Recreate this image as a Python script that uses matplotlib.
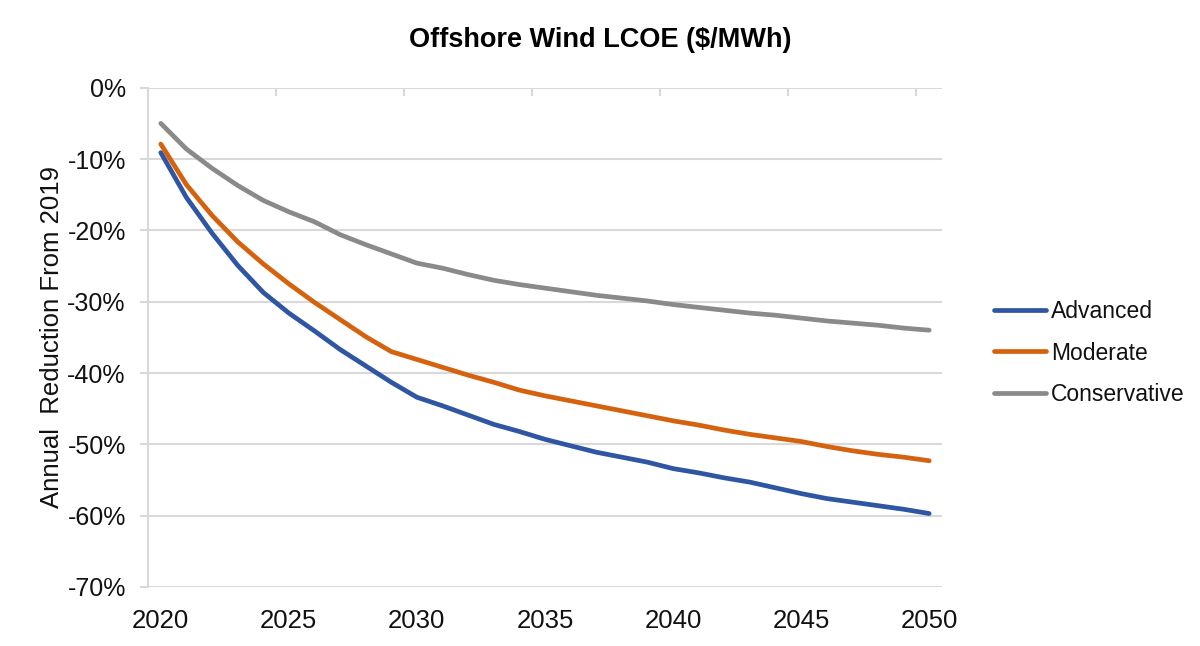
import matplotlib
matplotlib.use("Agg")
import matplotlib.pyplot as plt
from matplotlib.ticker import FixedLocator, FuncFormatter

years = list(range(2020, 2051))
advanced = [-9.1, -15.4, -20.4, -24.9, -28.7, -31.6, -34.1, -36.7, -39.0, -41.3,
            -43.4, -44.6, -45.9, -47.2, -48.2, -49.3, -50.2, -51.1, -51.8, -52.5,
            -53.4, -54.0, -54.7, -55.3, -56.1, -56.9, -57.6, -58.1, -58.6, -59.1, -59.7]
moderate = [-7.9, -13.6, -17.9, -21.6, -24.7, -27.5, -30.1, -32.5, -34.9, -37.0,
            -38.1, -39.2, -40.3, -41.3, -42.4, -43.2, -43.9, -44.6, -45.3, -46.0,
            -46.7, -47.3, -48.0, -48.6, -49.1, -49.6, -50.3, -50.9, -51.4, -51.8, -52.3]
conservative = [-5.0, -8.6, -11.3, -13.7, -15.8, -17.4, -18.8, -20.6, -22.0, -23.3,
                -24.6, -25.3, -26.2, -27.0, -27.6, -28.1, -28.6, -29.1, -29.5, -29.9,
                -30.4, -30.8, -31.2, -31.6, -31.9, -32.3, -32.7, -33.0, -33.3, -33.7, -34.0]
series_names = ["Advanced", "Moderate", "Conservative"]
series_colors = ["#2F56A3", "#D5620F", "#8A8A8A"]
x_tick_labels = [2020, 2025, 2030, 2035, 2040, 2045, 2050]
y_ticks = [0, -10, -20, -30, -40, -50, -60, -70]

plt.rcParams['font.family'] = ['Liberation Sans', 'DejaVu Sans']
grid_c = "#D9D9D9"
txt_c = '#111111'

fig = plt.figure(figsize=(12, 6.46), dpi=100)
ax = fig.add_axes([148/1200, 1-587/646, (942-148)/1200, (587-87.7)/646])

for vals, name, col in zip([advanced, moderate, conservative], series_names, series_colors):
    ax.plot(years, vals, color=col, lw=3.4, solid_capstyle='round',
            solid_joinstyle='round', label=name, zorder=3)

ax.set_xlim(years[0]-0.5, years[-1]+0.5)
ax.set_ylim(-70, 0)

ax.yaxis.set_major_locator(FixedLocator(y_ticks))
ax.yaxis.set_major_formatter(FuncFormatter(lambda v, p: f"{int(round(v))}%"))
ax.yaxis.grid(True, color=grid_c, lw=1.5, zorder=0)
ax.tick_params(axis='y', length=6, width=1.5, color=grid_c, pad=10,
               labelsize=18, labelcolor=txt_c)

ax.xaxis.set_major_locator(FixedLocator(x_tick_labels))
ax.xaxis.set_minor_locator(FixedLocator([y - 0.5 for y in x_tick_labels]))
ax.tick_params(axis='x', which='major', bottom=False, top=False,
               labelbottom=True, labelsize=18.5, pad=12, labelcolor=txt_c)
ax.tick_params(axis='x', which='minor', bottom=False, top=True,
               direction='in', length=6, width=1.5, color=grid_c)

for s in ['top', 'right', 'bottom']:
    ax.spines[s].set_visible(False)
ax.spines['left'].set_color(grid_c)
ax.spines['left'].set_linewidth(1.5)

ax.set_ylabel("Annual  Reduction From 2019", fontsize=18.5, color=txt_c)
ax.yaxis.set_label_coords(-0.106, 0.5, transform=ax.transAxes)

fig.text(0.5, 1-40/646, "Offshore Wind LCOE ($/MWh)", ha='center', va='center',
         fontsize=19.5, fontweight='bold', color='black')

leg = fig.legend(loc='center left', bbox_to_anchor=(973/1200, 1-353/646),
                 frameon=False, fontsize=16.5, handlelength=2.3, handletextpad=0.2,
                 labelspacing=0.8)
for t in leg.get_texts():
    t.set_color(txt_c)

fig.savefig("out.png", dpi=100, facecolor='white')
